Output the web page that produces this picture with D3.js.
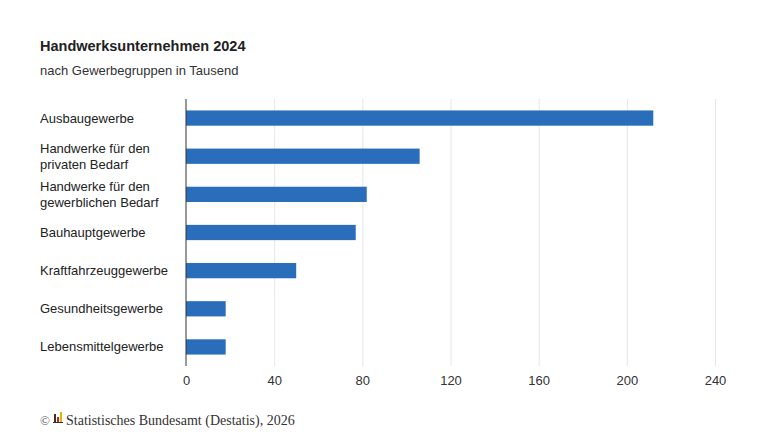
<!DOCTYPE html>
<html lang="de">
<head>
<meta charset="UTF-8">
<style>
  body { margin: 0; background: #fff; font-family: Arial, "Liberation Sans", sans-serif; }
  .tick line { stroke: #e6e6e6; }
  .x.axis .tick text { font-size: 13px; fill: #333; }
</style>
</head>
<body>
<div id="chart"></div>
<script src="https://d3js.org/d3.v7.min.js"></script>
<script>
const categories = [
  ["Ausbaugewerbe"],
  ["Handwerke für den", "privaten Bedarf"],
  ["Handwerke für den", "gewerblichen Bedarf"],
  ["Bauhauptgewerbe"],
  ["Kraftfahrzeuggewerbe"],
  ["Gesundheitsgewerbe"],
  ["Lebensmittelgewerbe"]
];
const values = [212, 106, 82, 77, 50, 18, 18];
const xTicks = [0, 40, 80, 120, 160, 200, 240];

const width = 768, height = 440;
const margin = { top: 99, right: 53, bottom: 74, left: 186 };
const innerW = width - margin.left - margin.right;
const innerH = height - margin.top - margin.bottom;

const svg = d3.select('#chart').append('svg')
  .attr('width', width).attr('height', height);

svg.append('text').attr('x', 40).attr('y', 51)
  .attr('font-size', 14.5).attr('font-weight', 'bold').attr('fill', '#222')
  .text('Handwerksunternehmen 2024');
svg.append('text').attr('x', 40).attr('y', 75)
  .attr('font-size', 13).attr('fill', '#333')
  .text('nach Gewerbegruppen in Tausend');

const g = svg.append('g').attr('transform', `translate(${margin.left},${margin.top})`);

const x = d3.scaleLinear().domain([0, 240]).range([0, innerW]);
const y = d3.scaleBand().domain(d3.range(categories.length)).range([0, innerH]).paddingInner(0.6).paddingOuter(0.3);

const xAxis = d3.axisBottom(x).tickValues(xTicks).tickSize(-innerH).tickPadding(10);
const ax = g.append('g').attr('class', 'x axis').attr('transform', `translate(0,${innerH})`).call(xAxis);
ax.select('.domain').remove();
ax.selectAll('.tick').filter(d => d === 0).select('line').remove();

g.selectAll('rect.bar').data(values).enter().append('rect')
  .attr('class', 'bar')
  .attr('x', 0).attr('y', (d, i) => y(i))
  .attr('width', d => x(d)).attr('height', y.bandwidth())
  .attr('fill', '#2a6ebb');

g.append('line').attr('x1', 0).attr('x2', 0).attr('y1', 0).attr('y2', innerH)
  .attr('stroke', '#333').attr('stroke-width', 1);

const labels = g.selectAll('text.cat').data(categories).enter().append('text')
  .attr('class', 'cat').attr('x', -146).attr('font-size', 13).attr('fill', '#222')
  .attr('y', (d, i) => y(i) + y.bandwidth() / 2 - (d.length - 1) * 8);
labels.selectAll('tspan').data(d => d).enter().append('tspan')
  .attr('x', -146).attr('dy', (d, i) => i === 0 ? '0.35em' : 16).text(d => d);

const foot = svg.append('g').attr('transform', 'translate(40,420)');
foot.append('text').attr('x', 0).attr('y', 5).attr('font-family', '"Liberation Serif", serif')
  .attr('font-size', 13).attr('fill', '#555').text('©');
foot.append('rect').attr('x', 14).attr('y', -6).attr('width', 2).attr('height', 8).attr('fill', '#333');
foot.append('rect').attr('x', 17).attr('y', -3).attr('width', 2).attr('height', 5).attr('fill', '#d02020');
foot.append('rect').attr('x', 20).attr('y', -8).attr('width', 2).attr('height', 10).attr('fill', '#e8b400');
foot.append('rect').attr('x', 13).attr('y', 2).attr('width', 10).attr('height', 1).attr('fill', '#333');
foot.append('text').attr('x', 26).attr('y', 5).attr('font-family', '"Liberation Serif", serif')
  .attr('font-size', 14).attr('fill', '#333').text('Statistisches Bundesamt (Destatis), 2026');
</script>
</body>
</html>
